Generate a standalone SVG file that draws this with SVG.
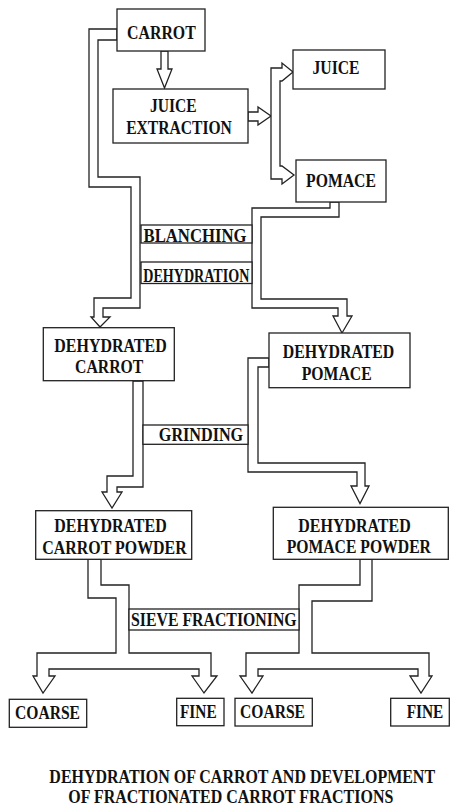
<svg xmlns="http://www.w3.org/2000/svg" width="450" height="808" viewBox="0 0 450 808">
<style>
.box{fill:#fff;stroke:#222;stroke-width:1.3}
.pipe{fill:#fff;stroke:#222;stroke-width:1.3;stroke-linejoin:miter}
.lbl{fill:#fff;stroke:#222;stroke-width:1.3}
.t{font-family:'Liberation Serif','Times New Roman',serif;font-weight:700;font-size:15.7px;fill:#111;text-anchor:middle}
</style>
<rect width="450" height="808" fill="#fff"/>
<g id="connectors">
  <polygon class="pipe" points="161,51 161,69 157,69 164.5,88 172,69 168,69 168,51"/>
  <polygon class="pipe" points="248,112 258,112 258,107 271,116 258,125 258,121 248,121"/>
  <polygon class="pipe" points="271,68 282,68 282,63 293,72 282,81 280,81 280,166 282,166 294,175 282,184 282,179 271,179"/>
  <polygon class="pipe" points="117,29 89,29 89,187 131,187 131,298 94,298 94,317 91,317 100,327 110,317 103,317 103,308 140,308 140,177 98,177 98,40 117,40"/>
  <polygon class="pipe" points="330,202 330,208 252,208 252,308 338,308 338,316 333,316 342,333 352,316 347,316 347,299 261,299 261,217 339,217 339,202"/>
  <polygon class="pipe" points="133,381 133,476 107,476 107,492 102,492 112,508 122,492 117,492 117,487 143,487 143,381"/>
  <polygon class="pipe" points="269,358 248,358 248,472 357,472 357,486 351,486 360,503.5 369,486 365,486 365,463 258,463 258,367 269,367"/>
  <polygon class="pipe" points="88,559 88,598 116,598 116,653 37,653 37,676 33,676 43,693 55,676 49,676 49,669 199,669 199,676 192,676 204,693 217,676 211,676 211,653 129,653 129,585 101,585 101,559"/>
  <polygon class="pipe" points="360,559 360,585 299,585 299,653 246,653 246,676 240,676 252,693 263,676 258,676 258,669 418,669 418,676 410,676 421,693 432,676 429,676 429,653 312,653 312,601 372,601 372,559"/>
  <g id="lbl-blanching">
    <rect class="lbl" x="141" y="225" width="111" height="18"/>
    <text class="t" transform="translate(195,241.5) scale(1,1.2)" textLength="103" lengthAdjust="spacingAndGlyphs">BLANCHING</text>
  </g>
  <g id="lbl-dehydration">
    <rect class="lbl" x="141" y="262" width="111" height="21.5"/>
    <text class="t" transform="translate(196.3,281.5) scale(1,1.2)" textLength="106" lengthAdjust="spacingAndGlyphs">DEHYDRATION</text>
  </g>
  <g id="lbl-grinding">
    <rect class="lbl" x="143" y="425" width="105" height="19.3"/>
    <text class="t" transform="translate(201,440.7) scale(1,1.2)" textLength="84.3" lengthAdjust="spacingAndGlyphs">GRINDING</text>
  </g>
  <g id="lbl-sieve">
    <rect class="lbl" x="129" y="609" width="170" height="21"/>
    <text class="t" transform="translate(213.8,626) scale(1,1.2)" textLength="165.7" lengthAdjust="spacingAndGlyphs">SIEVE FRACTIONING</text>
  </g>
</g>
<g id="carrot">
  <rect class="box" x="117" y="9" width="88" height="42"/>
  <text class="t" transform="translate(161.4,39.3) scale(1,1.2)" textLength="68.7" lengthAdjust="spacingAndGlyphs">CARROT</text>
</g>
<g id="juice-extraction">
  <rect class="box" x="113" y="89" width="135" height="54"/>
  <text class="t" transform="translate(173.3,112) scale(1,1.2)" textLength="46.7" lengthAdjust="spacingAndGlyphs">JUICE</text>
  <text class="t" transform="translate(179,134) scale(1,1.2)" textLength="105.7" lengthAdjust="spacingAndGlyphs">EXTRACTION</text>
</g>
<g id="juice">
  <rect class="box" x="293" y="50" width="92" height="39"/>
  <text class="t" transform="translate(336,74) scale(1,1.2)" textLength="47" lengthAdjust="spacingAndGlyphs">JUICE</text>
</g>
<g id="pomace">
  <rect class="box" x="296" y="160" width="90" height="42"/>
  <text class="t" transform="translate(341,186.7) scale(1,1.2)" textLength="69.8" lengthAdjust="spacingAndGlyphs">POMACE</text>
</g>
<g id="dehydrated-carrot">
  <rect class="box" x="43.3" y="327.7" width="131" height="53"/>
  <text class="t" transform="translate(110.5,351.7) scale(1,1.2)" textLength="112.4" lengthAdjust="spacingAndGlyphs">DEHYDRATED</text>
  <text class="t" transform="translate(109.2,372.7) scale(1,1.2)" textLength="68.3" lengthAdjust="spacingAndGlyphs">CARROT</text>
</g>
<g id="dehydrated-pomace">
  <rect class="box" x="269" y="333" width="141" height="54.7"/>
  <text class="t" transform="translate(338.5,358.3) scale(1,1.2)" textLength="111.6" lengthAdjust="spacingAndGlyphs">DEHYDRATED</text>
  <text class="t" transform="translate(336.7,380) scale(1,1.2)" textLength="70" lengthAdjust="spacingAndGlyphs">POMACE</text>
</g>
<g id="dehydrated-carrot-powder">
  <rect class="box" x="35.7" y="510.7" width="156" height="48.6"/>
  <text class="t" transform="translate(110.5,532.3) scale(1,1.2)" textLength="112.4" lengthAdjust="spacingAndGlyphs">DEHYDRATED</text>
  <text class="t" transform="translate(114.5,554) scale(1,1.2)" textLength="144.3" lengthAdjust="spacingAndGlyphs">CARROT POWDER</text>
</g>
<g id="dehydrated-pomace-powder">
  <rect class="box" x="273.3" y="507.3" width="175" height="52"/>
  <text class="t" transform="translate(354.5,531.7) scale(1,1.2)" textLength="112.4" lengthAdjust="spacingAndGlyphs">DEHYDRATED</text>
  <text class="t" transform="translate(358.8,553.3) scale(1,1.2)" textLength="144.3" lengthAdjust="spacingAndGlyphs">POMACE POWDER</text>
</g>
<g id="carrot-coarse">
  <rect class="box" x="9.3" y="699.3" width="77.4" height="28"/>
  <text class="t" transform="translate(47.5,719.3) scale(1,1.2)" textLength="65" lengthAdjust="spacingAndGlyphs">COARSE</text>
</g>
<g id="carrot-fine">
  <rect class="box" x="176.7" y="698.3" width="47.3" height="27.4"/>
  <text class="t" transform="translate(198.3,718.3) scale(1,1.2)" textLength="36.7" lengthAdjust="spacingAndGlyphs">FINE</text>
</g>
<g id="pomace-coarse">
  <rect class="box" x="235" y="698.3" width="77.3" height="27.7"/>
  <text class="t" transform="translate(272.5,718.3) scale(1,1.2)" textLength="65" lengthAdjust="spacingAndGlyphs">COARSE</text>
</g>
<g id="pomace-fine">
  <rect class="box" x="390.7" y="698.3" width="58.6" height="27.7"/>
  <text class="t" transform="translate(425,718.3) scale(1,1.2)" textLength="36.7" lengthAdjust="spacingAndGlyphs">FINE</text>
</g>
<g id="title">
  <text class="t" transform="translate(242.2,783.3) scale(1,1.2)" textLength="385.7" lengthAdjust="spacingAndGlyphs">DEHYDRATION OF CARROT AND DEVELOPMENT</text>
  <text class="t" transform="translate(230.8,802.7) scale(1,1.2)" textLength="325" lengthAdjust="spacingAndGlyphs">OF FRACTIONATED CARROT FRACTIONS</text>
</g>
</svg>
